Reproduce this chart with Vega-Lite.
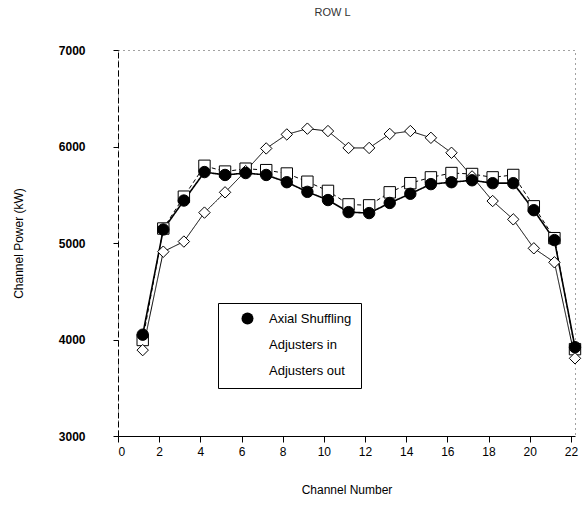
{
  "$schema": "https://vega.github.io/schema/vega-lite/v6.json",
  "width": 457,
  "height": 386,
  "autosize": {"type": "none"},
  "padding": {"left": 118, "top": 50, "right": 9, "bottom": 73},
  "background": "white",
  "config": {
    "view": {"stroke": "#444", "strokeDash": [1, 4], "strokeWidth": 1},
    "font": "Liberation Sans",
    "axis": {"grid": false, "domainColor": "black", "tickColor": "black", "labelColor": "black", "titleColor": "black", "labelFont": "Liberation Sans", "titleFont": "Liberation Sans", "titleFontWeight": "normal"}
  },
  "title": {"text": "ROW L", "fontSize": 11, "fontWeight": "normal", "color": "#333", "font": "Liberation Sans", "dx": -14, "offset": 26},
  "data": {
    "values": [
      {"channel": 1.2, "series": "Adjusters in", "power": 3995},
      {"channel": 2.2, "series": "Adjusters in", "power": 5150},
      {"channel": 3.2, "series": "Adjusters in", "power": 5480},
      {"channel": 4.2, "series": "Adjusters in", "power": 5800},
      {"channel": 5.2, "series": "Adjusters in", "power": 5740},
      {"channel": 6.2, "series": "Adjusters in", "power": 5770},
      {"channel": 7.2, "series": "Adjusters in", "power": 5755},
      {"channel": 8.2, "series": "Adjusters in", "power": 5720},
      {"channel": 9.2, "series": "Adjusters in", "power": 5635},
      {"channel": 10.2, "series": "Adjusters in", "power": 5540},
      {"channel": 11.2, "series": "Adjusters in", "power": 5400},
      {"channel": 12.2, "series": "Adjusters in", "power": 5390},
      {"channel": 13.2, "series": "Adjusters in", "power": 5525},
      {"channel": 14.2, "series": "Adjusters in", "power": 5620},
      {"channel": 15.2, "series": "Adjusters in", "power": 5680},
      {"channel": 16.2, "series": "Adjusters in", "power": 5725},
      {"channel": 17.2, "series": "Adjusters in", "power": 5715},
      {"channel": 18.2, "series": "Adjusters in", "power": 5680},
      {"channel": 19.2, "series": "Adjusters in", "power": 5705},
      {"channel": 20.2, "series": "Adjusters in", "power": 5380},
      {"channel": 21.2, "series": "Adjusters in", "power": 5050},
      {"channel": 22.2, "series": "Adjusters in", "power": 3900},
      {"channel": 1.2, "series": "Adjusters out", "power": 3890},
      {"channel": 2.2, "series": "Adjusters out", "power": 4910},
      {"channel": 3.2, "series": "Adjusters out", "power": 5015},
      {"channel": 4.2, "series": "Adjusters out", "power": 5315},
      {"channel": 5.2, "series": "Adjusters out", "power": 5525},
      {"channel": 6.2, "series": "Adjusters out", "power": 5745},
      {"channel": 7.2, "series": "Adjusters out", "power": 5980},
      {"channel": 8.2, "series": "Adjusters out", "power": 6125},
      {"channel": 9.2, "series": "Adjusters out", "power": 6185},
      {"channel": 10.2, "series": "Adjusters out", "power": 6160},
      {"channel": 11.2, "series": "Adjusters out", "power": 5985},
      {"channel": 12.2, "series": "Adjusters out", "power": 5985},
      {"channel": 13.2, "series": "Adjusters out", "power": 6130},
      {"channel": 14.2, "series": "Adjusters out", "power": 6160},
      {"channel": 15.2, "series": "Adjusters out", "power": 6090},
      {"channel": 16.2, "series": "Adjusters out", "power": 5935},
      {"channel": 17.2, "series": "Adjusters out", "power": 5690},
      {"channel": 18.2, "series": "Adjusters out", "power": 5435},
      {"channel": 19.2, "series": "Adjusters out", "power": 5245},
      {"channel": 20.2, "series": "Adjusters out", "power": 4945},
      {"channel": 21.2, "series": "Adjusters out", "power": 4800},
      {"channel": 22.2, "series": "Adjusters out", "power": 3805},
      {"channel": 1.2, "series": "Axial Shuffling", "power": 4050},
      {"channel": 2.2, "series": "Axial Shuffling", "power": 5140},
      {"channel": 3.2, "series": "Axial Shuffling", "power": 5440},
      {"channel": 4.2, "series": "Axial Shuffling", "power": 5735},
      {"channel": 5.2, "series": "Axial Shuffling", "power": 5705},
      {"channel": 6.2, "series": "Axial Shuffling", "power": 5725},
      {"channel": 7.2, "series": "Axial Shuffling", "power": 5705},
      {"channel": 8.2, "series": "Axial Shuffling", "power": 5630},
      {"channel": 9.2, "series": "Axial Shuffling", "power": 5530},
      {"channel": 10.2, "series": "Axial Shuffling", "power": 5445},
      {"channel": 11.2, "series": "Axial Shuffling", "power": 5320},
      {"channel": 12.2, "series": "Axial Shuffling", "power": 5310},
      {"channel": 13.2, "series": "Axial Shuffling", "power": 5415},
      {"channel": 14.2, "series": "Axial Shuffling", "power": 5510},
      {"channel": 15.2, "series": "Axial Shuffling", "power": 5610},
      {"channel": 16.2, "series": "Axial Shuffling", "power": 5630},
      {"channel": 17.2, "series": "Axial Shuffling", "power": 5650},
      {"channel": 18.2, "series": "Axial Shuffling", "power": 5620},
      {"channel": 19.2, "series": "Axial Shuffling", "power": 5620},
      {"channel": 20.2, "series": "Axial Shuffling", "power": 5340},
      {"channel": 21.2, "series": "Axial Shuffling", "power": 5030},
      {"channel": 22.2, "series": "Axial Shuffling", "power": 3920}
    ]
  },
  "encoding": {
    "x": {"field": "channel", "type": "quantitative", "scale": {"domain": [0, 22.2], "nice": false, "zero": false},
      "axis": {"values": [0, 2, 4, 6, 8, 10, 12, 14, 16, 18, 20, 22], "title": "Channel Number", "labelFontSize": 12, "titleFontSize": 12, "tickSize": 6, "labelPadding": 4, "titlePadding": 27}},
    "y": {"field": "power", "type": "quantitative", "scale": {"domain": [3000, 7000], "nice": false, "zero": false},
      "axis": {"values": [3000, 4000, 5000, 6000, 7000], "format": "d", "title": "Channel Power (kW)", "labelFontSize": 12, "labelFontWeight": "bold", "titleFontSize": 12, "tickSize": 5, "labelPadding": 28, "titlePadding": 33, "domainDash": [6, 3]}}
  },
  "layer": [
    {
      "mark": {"type": "line", "color": "black"},
      "encoding": {
        "detail": {"field": "series", "type": "nominal"},
        "strokeDash": {"condition": {"test": "datum.series === 'Adjusters in'", "value": [4, 3]}, "value": [1, 0]},
        "strokeWidth": {"condition": {"test": "datum.series === 'Axial Shuffling'", "value": 1.6}, "value": 1}
      }
    },
    {
      "mark": {"type": "point", "stroke": "black", "strokeWidth": 1, "opacity": 1, "fillOpacity": 1, "size": 130},
      "encoding": {
        "shape": {"field": "series", "type": "nominal", "scale": {"domain": ["Axial Shuffling", "Adjusters in", "Adjusters out"], "range": ["circle", "square", "diamond"]},
          "legend": {"title": null, "orient": "none", "legendX": 100, "legendY": 253, "strokeColor": "black", "fillColor": "white", "padding": 9, "symbolSize": 144, "symbolOffset": 14, "labelOffset": 15, "rowPadding": 9, "labelFontSize": 13, "labelColor": "black", "labelLimit": 400, "symbolStrokeColor": "black", "symbolStrokeWidth": 1,
            "labelExpr": "datum.label + '\u00a0\u00a0\u00a0\u00a0\u00a0\u00a0\u00a0\u00a0\u00a0\u00a0\u00a0\u00a0\u00a0\u00a0\u00a0\u00a0\u00a0\u00a0\u00a0\u00a0\u00a0'",
            "encode": {"symbols": {"update": {
              "shape": {"signal": "datum.value === 'Axial Shuffling' ? 'M-2.8,0H-1M1,0H2.2M-1,0A1,1 0 1,0 1,0A1,1 0 1,0 -1,0Z' : datum.value === 'Adjusters in' ? 'M-2.8,0H-2.2M-1.8,0H-1.2M-0.8,0H0.8M1.2,0H1.8M2.2,0H2.8M-0.8,-0.8H0.8V0.8H-0.8Z' : 'M-2.8,0H-1M1,0H2.8M-1,0L0,-1L1,0L0,1Z'"},
              "fill": {"signal": "datum.value === 'Axial Shuffling' ? 'black' : 'white'"},
              "stroke": {"signal": "'black'"}
            }}}
          }
        },
        "fill": {"field": "series", "type": "nominal", "scale": {"domain": ["Axial Shuffling", "Adjusters in", "Adjusters out"], "range": ["black", "white", "white"]}, "legend": null}
      }
    }
  ]
}
